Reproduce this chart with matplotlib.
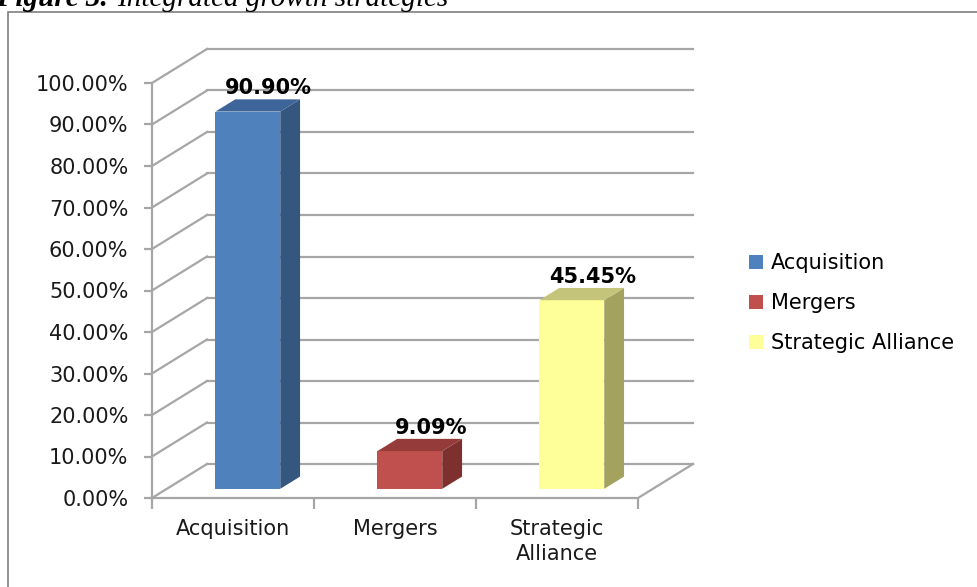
import numpy as np
import matplotlib
matplotlib.use("Agg")
import matplotlib.pyplot as plt
from matplotlib.patches import Polygon, Rectangle

# data
categories = ["Acquisition", "Mergers", "Strategic\nAlliance"]
legend_names = ["Acquisition", "Mergers", "Strategic Alliance"]
values = [90.90, 9.09, 45.45]
value_labels = ["90.90%", "9.09%", "45.45%"]
y_ticks = [0, 10, 20, 30, 40, 50, 60, 70, 80, 90, 100]

front_cols = ["#4F81BD", "#C0504D", "#FFFF99"]
side_cols = ["#35567F", "#7E302E", "#A3A35F"]
top_cols = ["#3E659A", "#953C3A", "#C4C47A"]
grid_col = "#A6A6A6"

W, H = 977, 587
fig = plt.figure(figsize=(W / 100, H / 100), dpi=100)

# plot area of the front face (pixels -> fig fractions)
left, right, bottom, top = 152, 638, 498, 83
ax = fig.add_axes([left / W, 1 - bottom / H, (right - left) / W, (bottom - top) / H])
ax.set_xlim(0, 3)
ax.set_ylim(0, 100)
for s in ax.spines.values():
    s.set_visible(False)

# depth offset of the back wall in data units
dx = 55 / (right - left) * 3
dy = 34 / (bottom - top) * 100
f0, f1 = 0.27, 0.63  # bar depth range
bw = 0.40

# back wall gridlines + left wall diagonals
for v in y_ticks:
    ax.plot([dx, 3 + dx], [v + dy, v + dy], color=grid_col, lw=1.6, clip_on=False, zorder=1)
    ax.plot([0, dx], [v, v + dy], color=grid_col, lw=1.6, clip_on=False, zorder=1)
# floor
ax.plot([0, 3, 3 + dx], [0, 0, dy], color=grid_col, lw=1.6, clip_on=False, zorder=1)
ax.plot([0, 0], [0, 100], color=grid_col, lw=1.6, clip_on=False, zorder=1)

# bars
for i, v in enumerate(values):
    x0 = i + 0.5 - bw / 2 + f0 * dx
    y0 = f0 * dy
    ddx = (f1 - f0) * dx
    ddy = (f1 - f0) * dy
    ax.add_patch(Rectangle((x0, y0), bw, v, facecolor=front_cols[i], edgecolor="none",
                           clip_on=False, zorder=3))
    ax.add_patch(Polygon([(x0 + bw, y0), (x0 + bw + ddx, y0 + ddy),
                          (x0 + bw + ddx, y0 + ddy + v), (x0 + bw, y0 + v)],
                         closed=True, facecolor=side_cols[i], edgecolor="none",
                         clip_on=False, zorder=3))
    ax.add_patch(Polygon([(x0, y0 + v), (x0 + bw, y0 + v),
                          (x0 + bw + ddx, y0 + v + ddy), (x0 + ddx, y0 + v + ddy)],
                         closed=True, facecolor=top_cols[i], edgecolor="none",
                         clip_on=False, zorder=3))
    ax.text(i + 0.5 + 0.65 * dx, v + f1 * dy + 0.3, value_labels[i], ha="center",
            va="bottom", fontsize=15, fontweight="bold", color="black", zorder=4)

# axes ticks
ax.set_yticks(y_ticks)
ax.set_yticklabels([f"{t:.2f}%" for t in y_ticks], fontsize=15, color="#1a1a1a")
ax.set_xticks([0, 1, 2, 3])
ax.set_xticklabels([])
ax.set_xticks([0.5, 1.5, 2.5], minor=True)
ax.set_xticklabels(categories, minor=True, fontsize=15, color="#1a1a1a", linespacing=1.35)
ax.tick_params(axis="y", length=6, width=1.6, color=grid_col, pad=11)
ax.tick_params(axis="x", which="major", length=8, width=1.6, color=grid_col)
ax.tick_params(axis="x", which="minor", length=0, pad=15)
for lab in ax.get_xticklabels(minor=True):
    lab.set_verticalalignment("top")

# legend
handles = [Rectangle((0, 0), 1, 1, facecolor=c, edgecolor="none") for c in front_cols]
fig.legend(handles, legend_names, loc="upper left", bbox_to_anchor=(741 / W, 1 - 245 / H),
           frameon=False, fontsize=15, handlelength=0.65, handleheight=0.65,
           handletextpad=0.4, labelspacing=0.95, borderaxespad=0)

# outer frame
fig.patches.append(Rectangle((8 / W, -0.05), 1.1, 1 - 12 / H + 0.05, transform=fig.transFigure,
                             facecolor="none", edgecolor="#7f7f7f", lw=1.2, zorder=0))

# caption, cut at the top edge
fig.text(108 / W, 1 - 6 / H, "Figure 3.", fontsize=21, fontfamily="Liberation Serif",
         fontweight="bold", fontstyle="italic", va="baseline", ha="right")
fig.text(117 / W, 1 - 6 / H, "Integrated growth strategies", fontsize=21,
         fontfamily="Liberation Serif", fontstyle="italic", va="baseline", ha="left")

fig.savefig("out.png", dpi=100)
